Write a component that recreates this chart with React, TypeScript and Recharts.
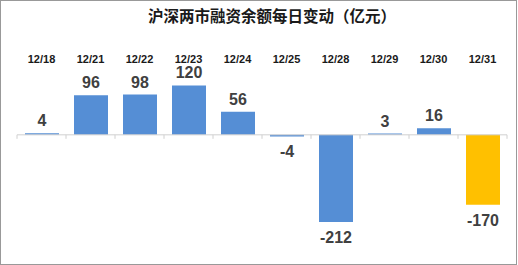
import React from 'react';
import { BarChart, Bar, XAxis, YAxis, Cell, LabelList, ReferenceLine } from 'recharts';

const categories = ['12/18', '12/21', '12/22', '12/23', '12/24', '12/25', '12/28', '12/29', '12/30', '12/31'];
const values = [4, 96, 98, 120, 56, -4, -212, 3, 16, -170];
const highlight = [false, false, false, false, false, false, false, false, false, true];
const title = '沪深两市融资余额每日变动（亿元）';

const data = categories.map((c, i) => ({ date: c, value: values[i], hl: highlight[i] }));

const BLUE = '#558ED5';
const YELLOW = '#FFC000';

const ValueLabel = (props: any) => {
  const { x, y, width, height, value } = props;
  const top = Math.min(y, y + height);
  const bottom = Math.max(y, y + height);
  const cx = x + width / 2;
  const ty = value >= 0 ? top - 7 : bottom + 21;
  return (
    <text x={cx} y={ty} textAnchor="middle" fill="#404040" fontSize={16} fontWeight="bold"
      fontFamily="'Liberation Sans', Arial, sans-serif">
      {value}
    </text>
  );
};

const ZeroLine = (props: any) => {
  const { x1, x2, y1 } = props;
  const n = categories.length;
  const step = (x2 - x1) / n;
  const ticks = [];
  for (let i = 0; i <= n; i++) {
    const tx = x1 + step * i;
    ticks.push(<line key={i} x1={tx} x2={tx} y1={y1} y2={y1 + 4} stroke="#d0d0d0" strokeWidth={1} />);
  }
  return (
    <g>
      <line x1={x1} x2={x2} y1={y1} y2={y1} stroke="#d0d0d0" strokeWidth={1} />
      {ticks}
    </g>
  );
};

export default function App() {
  return (
    <div style={{ position: 'absolute', left: 0, top: 0, width: 518, height: 265, background: '#fff' }}>
      <div style={{ position: 'absolute', left: 0, top: 0, width: 517, height: 265, border: '1px solid #999', boxSizing: 'border-box' }} />
      <div style={{
        position: 'absolute', left: 0, top: 5, width: 544, textAlign: 'center',
        fontFamily: "'Noto Sans CJK SC', sans-serif", fontWeight: 'bold', fontSize: 15.5, color: '#1a1a1a', lineHeight: '20px'
      }}>{title}</div>
      <div style={{ position: 'absolute', left: 0, top: 0 }}>
        <BarChart width={518} height={265} data={data} margin={{ top: 39, right: 11, left: 17, bottom: 15 }}>
          <XAxis dataKey="date" orientation="top" axisLine={false} tickLine={false} tickSize={4} tickMargin={2}
            interval={0}
            tick={{ fill: '#1a1a1a', fontSize: 11, fontWeight: 'bold', fontFamily: "'Liberation Sans', Arial, sans-serif" }} />
          <YAxis hide domain={[-280, 160]} allowDataOverflow />
          <ReferenceLine y={0} shape={ZeroLine} />
          <Bar dataKey="value" barSize={34} isAnimationActive={false}>
            {data.map((d, i) => (
              <Cell key={i} fill={d.hl ? YELLOW : BLUE} />
            ))}
            <LabelList dataKey="value" content={ValueLabel} />
          </Bar>
        </BarChart>
      </div>
    </div>
  );
}
